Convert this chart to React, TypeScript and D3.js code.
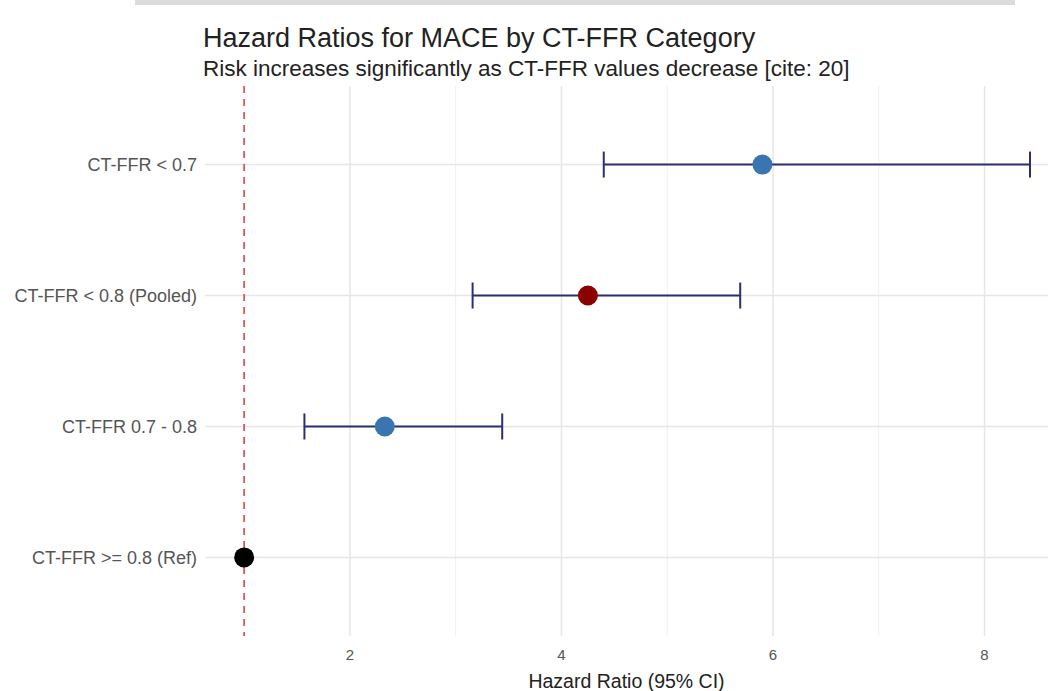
import React from "react";
import * as d3 from "d3";

// forest plot data
const categories = [
  "CT-FFR < 0.7",
  "CT-FFR < 0.8 (Pooled)",
  "CT-FFR 0.7 - 0.8",
  "CT-FFR >= 0.8 (Ref)",
];
const hr = [5.9, 4.25, 2.33, 1.0];
const lower = [4.4, 3.16, 1.57, 1.0];
const upper = [8.43, 5.69, 3.44, 1.0];
const pointColors = ["#3a75b0", "#8b0000", "#3a75b0", "#000000"];
const xTicks = [2, 4, 6, 8];
const xMinor = [3, 5, 7];

const W = 1055;
const H = 691;
const panel = { left: 205, right: 1048, top: 86, bottom: 636 };

const App = () => {
  const x = d3
    .scaleLinear()
    .domain([0.63, 8.6])
    .range([panel.left, panel.right]);
  const y = d3
    .scalePoint<string>()
    .domain(categories)
    .range([panel.top, panel.bottom])
    .padding(0.6);

  const font = "'Liberation Sans', Arial, Helvetica, sans-serif";

  return (
    <svg
      width={W}
      height={H}
      style={{ position: "absolute", left: 0, top: 0, fontFamily: font }}
    >
      <rect width={W} height={H} fill="#fff" />
      {/* grey strip at the very top of the screenshot */}
      <rect x={135} y={0} width={880} height={5} fill="#dcdcdc" />

      {/* grid */}
      {xMinor.map((t) => (
        <line
          key={"mn" + t}
          x1={x(t)}
          x2={x(t)}
          y1={panel.top}
          y2={panel.bottom}
          stroke="#f0f0f0"
          strokeWidth={1}
        />
      ))}
      {xTicks.map((t) => (
        <line
          key={"mj" + t}
          x1={x(t)}
          x2={x(t)}
          y1={panel.top}
          y2={panel.bottom}
          stroke="#e6e6e6"
          strokeWidth={1.5}
        />
      ))}
      {categories.map((c) => (
        <line
          key={"h" + c}
          x1={panel.left}
          x2={panel.right}
          y1={y(c)}
          y2={y(c)}
          stroke="#e6e6e6"
          strokeWidth={1.5}
        />
      ))}

      {/* reference line at HR = 1 */}
      <line
        x1={x(1)}
        x2={x(1)}
        y1={panel.top}
        y2={panel.bottom}
        stroke="#d65a5a"
        strokeWidth={1.8}
        strokeDasharray="7,6"
      />

      {/* error bars */}
      {categories.map((c, i) => {
        if (lower[i] === upper[i]) return null;
        const cy = y(c)!;
        return (
          <g key={"e" + c} stroke="#2b2f72" strokeWidth={2}>
            <line x1={x(lower[i])} x2={x(upper[i])} y1={cy} y2={cy} />
            <line x1={x(lower[i])} x2={x(lower[i])} y1={cy - 13} y2={cy + 13} />
            <line x1={x(upper[i])} x2={x(upper[i])} y1={cy - 13} y2={cy + 13} />
          </g>
        );
      })}

      {/* points */}
      {categories.map((c, i) => (
        <circle
          key={"p" + c}
          cx={x(hr[i])}
          cy={y(c)}
          r={10}
          fill={pointColors[i]}
        />
      ))}

      {/* y labels */}
      {categories.map((c) => (
        <text
          key={"yl" + c}
          x={panel.left - 8}
          y={y(c)}
          dy="0.35em"
          textAnchor="end"
          fontSize={18}
          fill="#555"
        >
          {c}
        </text>
      ))}

      {/* x labels */}
      {xTicks.map((t) => (
        <text
          key={"xl" + t}
          x={x(t)}
          y={panel.bottom + 24}
          textAnchor="middle"
          fontSize={15}
          fill="#555"
        >
          {t}
        </text>
      ))}
      <text
        x={(panel.left + panel.right) / 2}
        y={688}
        textAnchor="middle"
        fontSize={19.5}
        fill="#222"
      >
        Hazard Ratio (95% CI)
      </text>

      {/* titles */}
      <text x={203} y={47} fontSize={27} fill="#222">
        Hazard Ratios for MACE by CT-FFR Category
      </text>
      <text x={203} y={76} fontSize={22.5} fill="#222">
        Risk increases significantly as CT-FFR values decrease [cite: 20]
      </text>
    </svg>
  );
};

export default App;
